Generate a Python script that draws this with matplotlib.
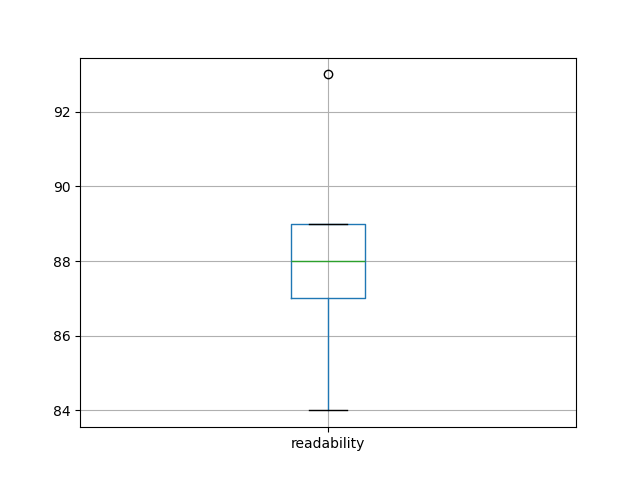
import pandas as pd
import matplotlib
matplotlib.use("Agg")
import matplotlib.pyplot as plt

# scores (box 87-89, median 88, whisker down to 84, outlier 93)
readability = [84, 87, 87, 88, 88, 89, 89, 89, 93]

df = pd.DataFrame({"readability": readability})

fig = plt.figure(figsize=(6.4, 4.8), dpi=100)
df.boxplot(column=["readability"])
fig.savefig("out.png")
